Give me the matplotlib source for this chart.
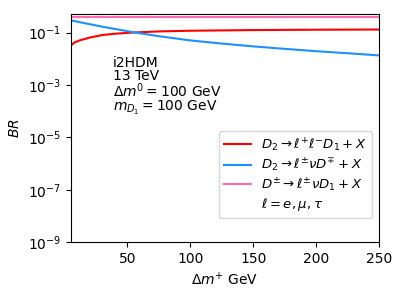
import numpy as np
import matplotlib
matplotlib.use("Agg")
import matplotlib.pyplot as plt

# Values (x = Δm+ in GeV)
dm_ll = [5, 8, 12, 20, 30, 40, 55, 75, 100, 150, 200, 250]
br_ll = [0.032, 0.042, 0.050, 0.064, 0.080, 0.090, 0.100, 0.110, 0.117, 0.124, 0.128, 0.130]

dm_lnu = [5, 30, 55, 75, 100, 125, 150, 175, 200, 225, 250]
br_lnu = [0.29, 0.167, 0.102, 0.0726, 0.050, 0.0379, 0.0296, 0.0238, 0.0194, 0.0162, 0.0134]

dm_charged = [5, 250]
br_charged = [0.39, 0.39]

fig, ax = plt.subplots(figsize=(4.07, 2.96), dpi=100)
fig.subplots_adjust(left=0.174, right=0.931, bottom=0.182, top=0.952)

ax.plot(dm_ll, br_ll, color="red", label=r"$D_2 \to \ell^{+}\ell^{-}D_1 + X$")
ax.plot(dm_lnu, br_lnu, color="dodgerblue", label=r"$D_2 \to \ell^{\pm}\nu D^{\mp} + X$")
ax.plot(dm_charged, br_charged, color="hotpink", label=r"$D^{\pm} \to \ell^{\pm}\nu D_1 + X$")
ax.plot([], [], color="none", label=r"$\ell = e,\mu,\tau$")

ax.set_yscale("log")
ax.set_xlim(5, 250)
ax.set_ylim(1e-9, 0.5)
ax.set_yticks([1e-9, 1e-7, 1e-5, 1e-3, 1e-1])
ax.set_xticks([50, 100, 150, 200, 250])
ax.minorticks_off()
ax.set_xlabel(r"$\Delta m^{+}$ GeV")
ax.set_ylabel(r"$BR$")

ax.text(0.137, 0.815, "i2HDM\n13 TeV\n" + r"$\Delta m^0 = 100$ GeV" + "\n" + r"$m_{D_1} = 100$ GeV",
        transform=ax.transAxes, va="top", ha="left", linespacing=0.9)

ax.legend(loc="lower right", bbox_to_anchor=(1.0, 0.075), fontsize=9.5, labelspacing=0.2)

fig.savefig("out.png", dpi=100)
